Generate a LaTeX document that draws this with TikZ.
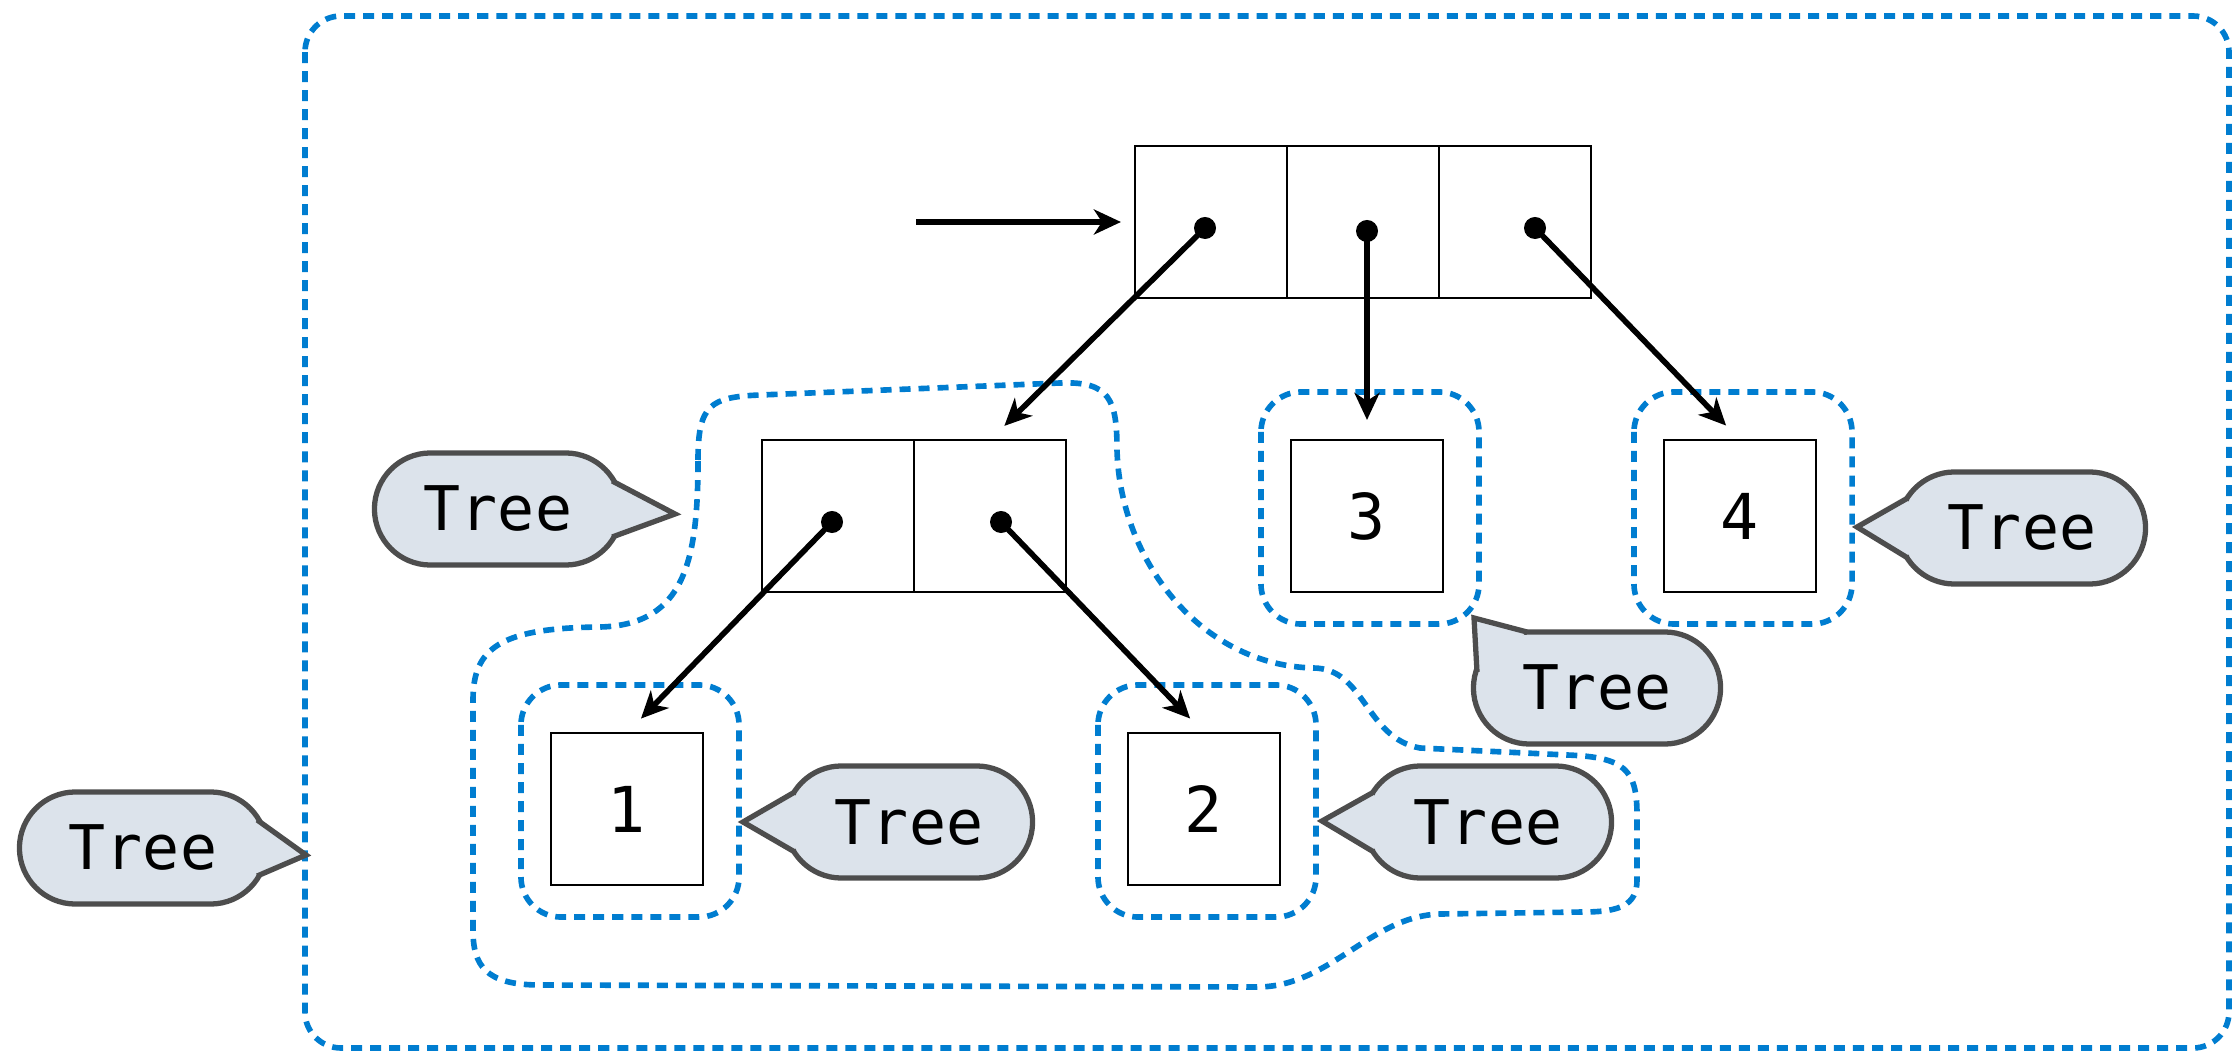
\documentclass[tikz,border=0pt]{standalone}
\usepackage{fontspec}
\newfontfamily\treefont{DejaVu Sans Mono}
\usetikzlibrary{arrows.meta,calc,positioning,shapes.misc}
\definecolor{frameblue}{RGB}{0,125,208}
\definecolor{tagfill}{RGB}{220,227,235}
\definecolor{tagedge}{RGB}{77,77,77}

\begin{document}
\begin{tikzpicture}[x=0.01cm, y=-0.01cm,
  cell/.style={draw, line width=0.65pt, minimum size=1.52cm, inner sep=0pt, outer sep=0pt, font=\treefont\fontsize{18}{20}\selectfont},
  dot/.style={circle, fill, inner sep=0pt, minimum size=0.22cm},
  ptr/.style={line width=1.6pt, -{Stealth[length=0.27cm, width=0.25cm, inset=0.08cm]}, shorten >=0.2cm},
  frame/.style={draw=frameblue, line width=1.6pt, dash pattern=on 0.11cm off 0.08cm},
  tag/.style={rounded rectangle, fill=tagfill, draw=tagedge, line width=1.5pt, minimum width=2.47cm, minimum height=1.12cm, inner sep=0pt, font=\treefont\fontsize{17.5}{20}\selectfont},
  tagtip/.style={fill=tagfill, draw=tagedge, line width=1.5pt, line join=miter}]
  \useasboundingbox (0,0) rectangle (2233,1052);
  \draw[frame, rounded corners=0.36cm] (305,16) rectangle (2229,1048);

  \node[cell] (r1) at (1211,222) {};
  \node[cell, right=0pt of r1] (r2) {};
  \node[cell, right=0pt of r2] (r3) {};
  \node[cell] (b1) at (838,516) {};
  \node[cell, right=0pt of b1] (b2) {};
  \node[cell] (n1) at (627,809) {1};
  \node[cell] (n2) at (1204,809) {2};
  \node[cell] (n3) at (1367,516) {3};
  \node[cell] (n4) at (1740,516) {4};

  \foreach \n in {n1,n2,n3,n4}
    \draw[frame, rounded corners=0.4cm] ($(\n.north west)+(-30,-48)$) rectangle ($(\n.south east)+(36,32)$);
  \draw[frame] (698,460) .. controls (698,405) and (710,397) .. (760,395) -- (1060,383)
    .. controls (1110,381) and (1117,400) .. (1117,450)
    .. controls (1120,560) and (1200,665) .. (1313,668)
    .. controls (1365,668) and (1365,738) .. (1420,748) -- (1567,755)
    .. controls (1625,757) and (1637,770) .. (1637,815) -- (1637,880)
    .. controls (1637,905) and (1620,912) .. (1583,912) -- (1440,914)
    .. controls (1370,916) and (1330,987) .. (1257,987) -- (540,985)
    .. controls (485,985) and (473,965) .. (473,930) -- (473,700)
    .. controls (473,648) and (500,628) .. (600,627)
    .. controls (685,625) and (698,560) .. (698,460) -- cycle;

  \node[dot] (p1) at (1205,228) {};
  \node[dot] (p2) at (1367,231) {};
  \node[dot] (p3) at (1535,228) {};
  \node[dot] (q1) at (832,522) {};
  \node[dot] (q2) at (1001,522) {};
  \coordinate (entry) at (916,222);
  \draw[ptr, shorten >=0.14cm] (entry) -- (r1.west);
  \draw[ptr] (p1.center) -- (b2.north);
  \draw[ptr] (p2.center) -- (n3.north);
  \draw[ptr] (p3.center) -- (n4.north);
  \draw[ptr] (q1.center) -- (n1.north);
  \draw[ptr] (q2.center) -- (n2.north);

  \node[tag] (ta) at (498,509) {Tree};
  \node[tag] (tb) at (143,848) {Tree};
  \node[tag] (tc) at (909,822) {Tree};
  \node[tag] (td) at (1488,822) {Tree};
  \node[tag] (te) at (2022,528) {Tree};
  \node[tag] (tf) at (1597,688) {Tree};
  \coordinate (ka) at (675,514);
  \coordinate (kb) at (306,855);
  \coordinate (kc) at (743,822);
  \coordinate (kd) at (1322,821);
  \coordinate (ke) at (1857,527);
  \coordinate (kf) at (1474,618);
  \filldraw[tagtip] ($(ta.east)+(-12,-28)$) -- (ka) -- ($(ta.east)+(-12,28)$);
  \filldraw[tagtip] ($(tb.east)+(-12,-28)$) -- (kb) -- ($(tb.east)+(-12,28)$);
  \filldraw[tagtip] ($(tc.west)+(12,-30)$) -- (kc) -- ($(tc.west)+(12,30)$);
  \filldraw[tagtip] ($(td.west)+(12,-30)$) -- (kd) -- ($(td.west)+(12,30)$);
  \filldraw[tagtip] ($(te.west)+(12,-30)$) -- (ke) -- ($(te.west)+(12,30)$);
  \filldraw[tagtip] ($(tf.center)+(-70,-56)$) -- (kf) -- ($(tf.center)+(-120,-16)$);
\end{tikzpicture}
\end{document}
